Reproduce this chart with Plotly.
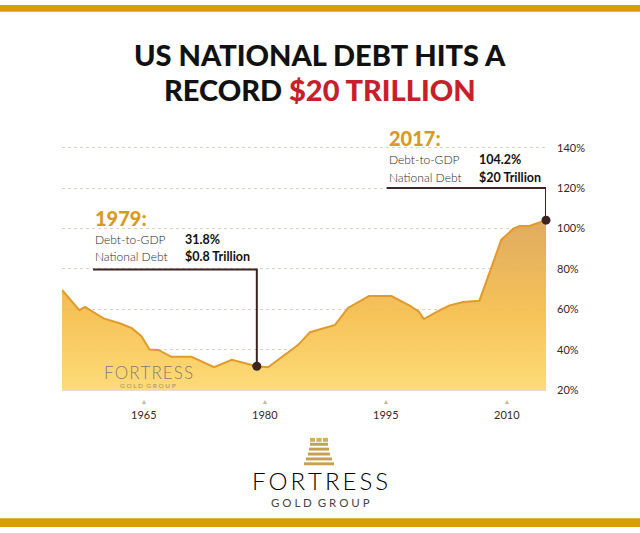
import plotly.graph_objects as go

# debt-to-GDP curve
years = [1954.85, 1957.0, 1957.7, 1960.0, 1962.0, 1963.5, 1964.7, 1965.7, 1966.8, 1968.4,
         1970.9, 1973.7, 1975.9, 1979.0, 1980.4, 1984.1, 1985.6, 1988.7, 1990.3, 1992.9,
         1995.7, 1998.0, 1999.1, 1999.7, 2001.7, 2002.9, 2004.6, 2006.6, 2009.3, 2010.8,
         2011.6, 2012.8, 2014.85]
debt_pct = [69.6, 59.6, 61.2, 55.5, 53.1, 50.7, 46.7, 40.1, 39.9, 36.5,
            36.5, 31.3, 35.0, 31.8, 31.3, 42.3, 48.7, 52.3, 60.7, 66.6,
            66.6, 61.7, 58.8, 55.2, 59.6, 62.0, 63.6, 64.3, 94.4, 100.0,
            101.3, 101.3, 104.2]

x_ticks = [1965, 1980, 1995, 2010]
y_ticks = [20, 40, 60, 80, 100, 120, 140]

# callouts: index of the point, level of the elbow, left end of the bar
callouts = [
    dict(idx=13, level=79.8, left=1958.7, year='1979:', gdp='31.8%', debt='$0.8 Trillion'),
    dict(idx=32, level=120.1, left=1995.1, year='2017:', gdp='104.2%', debt='$20 Trillion'),
]

GOLD = '#DB9C0A'
BROWN = '#3b2422'
W, H = 640, 533


def px(x):
    return x / W


def py(y):
    return 1 - y / H


fig = go.Figure()

fig.add_trace(go.Scatter(
    x=years, y=debt_pct, mode='lines', fill='tozeroy',
    line=dict(color='#E19A2B', width=2),
    fillgradient=dict(type='vertical', start=20, stop=105,
                      colorscale=[[0, 'rgba(254,218,112,0.92)'], [0.45, 'rgba(246,190,74,0.92)'],
                                  [1, 'rgba(222,166,88,0.95)']]),
    hoverinfo='skip', showlegend=False))

for c in callouts:
    i = c['idx']
    fig.add_trace(go.Scatter(
        x=[c['left'], years[i], years[i]], y=[c['level'], c['level'], debt_pct[i]],
        mode='lines', line=dict(color=BROWN, width=2), cliponaxis=False,
        hoverinfo='skip', showlegend=False))
    fig.add_trace(go.Scatter(
        x=[years[i]], y=[debt_pct[i]], mode='markers', cliponaxis=False,
        marker=dict(color=BROWN, size=9), hoverinfo='skip', showlegend=False))

fig.update_xaxes(
    domain=[px(62), px(546)], range=[1954.85, 2014.85],
    tickvals=x_ticks,
    ticktext=[f"<span style='color:#c8b79a;font-size:7px'>▲</span><br>{t}" for t in x_ticks],
    tickfont=dict(family='Lato', size=11, color=BROWN),
    showgrid=False, zeroline=False, showline=True, linecolor='#e3ddd2', linewidth=1,
    fixedrange=True)
fig.update_yaxes(
    domain=[py(393.2), py(146) + 0.004], range=[20, 141], side='right',
    tickvals=y_ticks, ticktext=[f'{v}%' for v in y_ticks], ticklabelstandoff=10,
    tickfont=dict(family='Lato', size=11, color=BROWN),
    showgrid=True, gridcolor='#d9d1c3', griddash='dot', gridwidth=1,
    zeroline=False, showline=False, fixedrange=True)

ann = []
title_font = dict(family='Lato', size=29, color='#111111', weight=900)
ann.append(dict(text='US NATIONAL DEBT HITS A', x=0.5, y=py(51), font=title_font))
ann.append(dict(text="RECORD <span style='color:#C8202A'>$20 TRILLION</span>", x=0.5, y=py(86),
                font=title_font))

# callout texts
label_pos = [(93, 217, 183), (387, 136, 477)]
for c, (lx, ly, vx) in zip(callouts, label_pos):
    ann.append(dict(text=c['year'], x=px(lx), y=py(ly), xanchor='left',
                    font=dict(family='Lato', size=20, color='#D99A22', weight=900)))
    ann.append(dict(text='Debt-to-GDP', x=px(lx), y=py(ly + 22), xanchor='left',
                    font=dict(family='Lato', size=12, color='#2b2b2b', weight=300)))
    ann.append(dict(text='National Debt', x=px(lx), y=py(ly + 40), xanchor='left',
                    font=dict(family='Lato', size=12, color='#2b2b2b', weight=300)))
    ann.append(dict(text=c['gdp'], x=px(vx), y=py(ly + 22), xanchor='left',
                    font=dict(family='Lato', size=12.5, color='#111111', weight='bold')))
    ann.append(dict(text=c['debt'], x=px(vx), y=py(ly + 40), xanchor='left',
                    font=dict(family='Lato', size=12.5, color='#111111', weight='bold')))

# watermark inside the plot
ann.append(dict(text='F\u200aO\u200aR\u200aT\u200aR\u200aE\u200aS\u200aS', x=px(148), y=py(375),
                font=dict(family='Lato', size=17, color='rgba(105,105,105,0.85)', weight=300)))
ann.append(dict(text='G O L D  G R O U P', x=px(148), y=py(389),
                font=dict(family='Lato', size=6.5, color='#9e8d72')))

# logo at the bottom
ann.append(dict(text='F\u2009O\u2009R\u2009T\u2009R\u2009E\u2009S\u2009S', x=0.5, y=py(486),
                font=dict(family='Lato', size=24, color='#000000', weight=300)))
ann.append(dict(text='G O L D  G R O U P', x=0.5, y=py(508),
                font=dict(family='Lato', size=11.5, color='#444444')))

for a in ann:
    a.update(xref='paper', yref='paper', showarrow=False)
    a.setdefault('xanchor', 'center')
    a.setdefault('yanchor', 'middle')

shapes = [
    dict(type='rect', x0=0, x1=1, y0=py(7), y1=1, fillcolor=GOLD, line_width=0),
    dict(type='rect', x0=0, x1=1, y0=0, y1=py(524), fillcolor=GOLD, line_width=0),
]
# tower icon
bands = [(447, 450, 310, 328), (452, 455, 309, 329), (457, 460, 308, 330),
         (462, 465, 306, 332), (467, 470, 304, 334)]
for y0, y1, x0, x1 in bands:
    shapes.append(dict(type='rect', x0=px(x0), x1=px(x1), y0=py(y1), y1=py(y0),
                       fillcolor='#C9A050', line_width=0))
for x0 in (310, 316.5, 323):
    shapes.append(dict(type='rect', x0=px(x0), x1=px(x0 + 5), y0=py(446), y1=py(442),
                       fillcolor='#D4AE5E', line_width=0))
for s in shapes:
    s.update(xref='paper', yref='paper', layer='above')

fig.update_layout(
    width=W, height=H, autosize=False,
    margin=dict(l=0, r=0, t=0, b=0),
    paper_bgcolor='white', plot_bgcolor='white',
    annotations=ann, shapes=shapes, showlegend=False)

fig.write_html("out.html", config={'displayModeBar': False},
               post_script="document.body.style.margin='0';document.body.style.overflow='hidden';")
